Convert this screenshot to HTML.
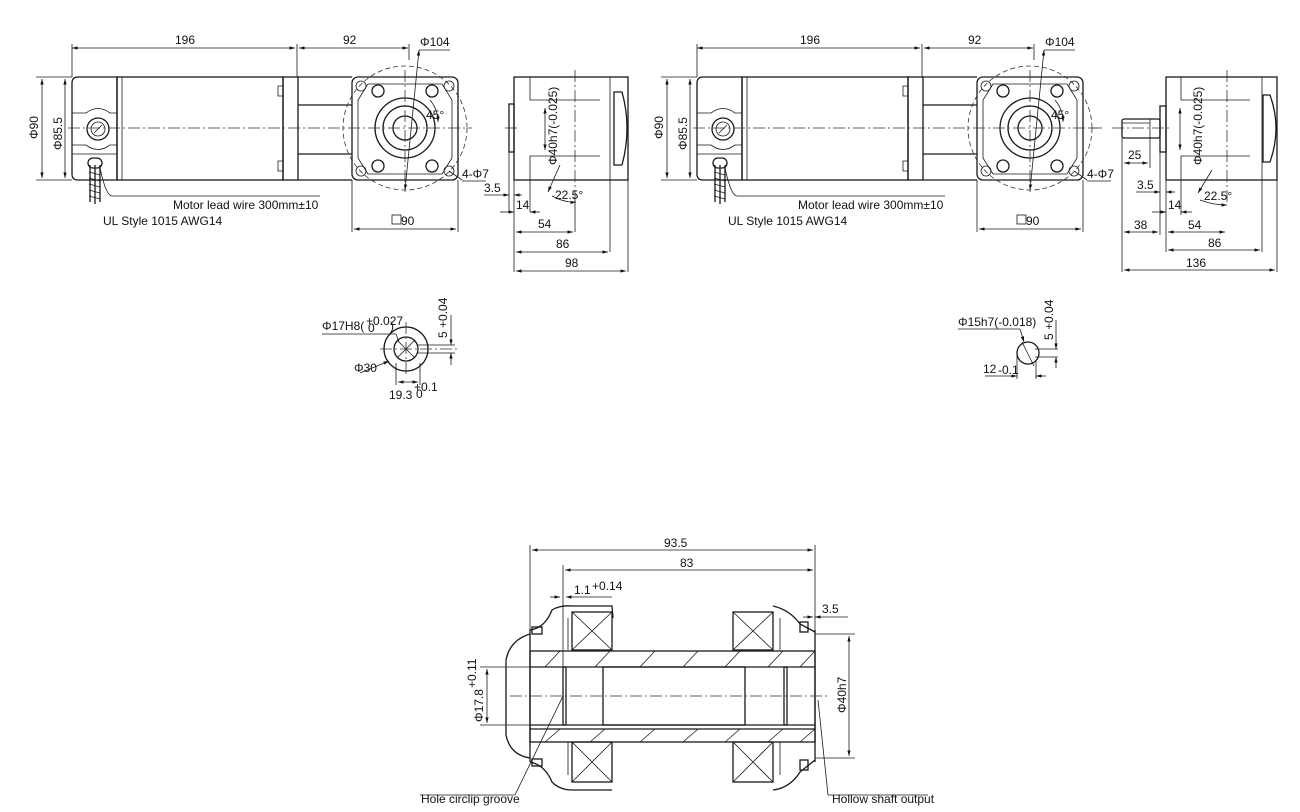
<!DOCTYPE html>
<html><head><meta charset="utf-8"><style>
html,body{margin:0;padding:0;background:#fff;}
svg{display:block}
text{font-family:"Liberation Sans Narrow","Liberation Sans",sans-serif;fill:#111;font-size:12px}
.l{stroke:#1a1a1a;stroke-width:1.3;fill:none}
.t{stroke:#1a1a1a;stroke-width:0.8;fill:none}
.c{stroke:#333;stroke-width:0.8;fill:none;stroke-dasharray:12 3 2 3}
.d{stroke:#333;stroke-width:0.8;fill:none;stroke-dasharray:5 3}
</style></head><body>
<svg width="1300" height="812" viewBox="0 0 1300 812" xmlns="http://www.w3.org/2000/svg">
<defs>
<marker id="a" viewBox="0 0 10 10" refX="10" refY="5" markerWidth="7" markerHeight="7" orient="auto-start-reverse"><path d="M0,2 L10,5 L0,8 z" fill="#111"/></marker>
<g id="motor">
  <path class="l" d="M78,77 H117 V180 H78 Q72,180 72,174 V83 Q72,77 78,77 Z"/>
  <path class="t" d="M72,113 H86 Q98,104 110,113 H117 M72,145 H86 Q98,154 110,145 H117 M72,154 H117"/>
  <circle class="l" cx="98" cy="129" r="11"/><circle class="t" cx="98" cy="129" r="7"/>
  <line class="t" x1="94" y1="133" x2="102" y2="125"/>
  <rect class="l" x="88" y="158" width="14" height="10" rx="5"/>
  <path class="l" d="M90,165 V202 M95,165 V204 M100,165 V202"/>
  <path class="t" d="M89,172 l11,3 M89,178 l11,3 M89,184 l11,3 M89,190 l11,3 M89,196 l11,3"/>
  <rect class="l" x="117" y="77" width="166" height="103"/>
  <line class="t" x1="122" y1="77" x2="122" y2="180"/>
  <rect class="l" x="283" y="77" width="15" height="103"/>
  <path class="t" d="M278,86 h5 v10 h-5 z M278,161 h5 v10 h-5 z"/>
  <path class="l" d="M298,77 H352 M298,180 H352 M298,105 H352 M298,154 H352"/>
  <rect class="l" x="352" y="77" width="106" height="103" rx="6"/>
  <path class="t" d="M368,84 H442 L452,100 V158 L442,174 H368 L358,158 V100 Z"/>
  <circle class="t" cx="361" cy="86" r="5"/><circle class="t" cx="449" cy="86" r="5"/>
  <circle class="t" cx="361" cy="171" r="5"/><circle class="t" cx="449" cy="171" r="5"/>
  <circle class="l" cx="378" cy="91" r="6"/><circle class="l" cx="432" cy="91" r="6"/>
  <circle class="l" cx="378" cy="166" r="6"/><circle class="l" cx="432" cy="166" r="6"/>
  <circle class="l" cx="405" cy="128" r="30"/><circle class="l" cx="405" cy="128" r="22"/><circle class="l" cx="405" cy="128" r="12"/>
  <circle class="d" cx="405" cy="128" r="62"/>
  <line class="c" x1="405" y1="70" x2="405" y2="192"/>
  <line class="t" x1="419" y1="50" x2="405" y2="190" marker-end="url(#a)" marker-start="url(#a)"/>
  <line class="t" x1="419" y1="50" x2="450" y2="50"/>
  <text x="420" y="46">Φ104</text>
  <path class="t" d="M430,100 A34,34 0 0 1 438,122" marker-end="url(#a)"/>
  <text x="426" y="119">45°</text>
  <line class="t" x1="449" y1="171" x2="462" y2="180"/>
  <text x="462" y="178">4-Φ7</text>
  <line class="t" x1="462" y1="181" x2="486" y2="181"/>
  <line class="t" x1="72" y1="77" x2="72" y2="44"/>
  <line class="t" x1="297" y1="77" x2="297" y2="44"/>
  <line class="t" x1="409" y1="60" x2="409" y2="44"/>
  <line class="t" x1="72" y1="48" x2="295" y2="48" marker-end="url(#a)" marker-start="url(#a)"/>
  <line class="t" x1="299" y1="48" x2="408" y2="48" marker-end="url(#a)" marker-start="url(#a)"/>
  <text x="175" y="44">196</text><text x="343" y="44">92</text>
  <line class="t" x1="36" y1="77" x2="72" y2="77"/><line class="t" x1="36" y1="180" x2="72" y2="180"/>
  <line class="t" x1="42" y1="79" x2="42" y2="178" marker-end="url(#a)" marker-start="url(#a)"/>
  <line class="t" x1="65" y1="79" x2="65" y2="178" marker-end="url(#a)" marker-start="url(#a)"/>
  <text transform="translate(38,139) rotate(-90)">Φ90</text>
  <text transform="translate(62,150) rotate(-90)">Φ85.5</text>
  <line class="c" x1="68" y1="128" x2="472" y2="128"/>
  <path class="t" d="M100,168 Q106,196 112,196 H320"/>
  <text x="173" y="209">Motor lead wire 300mm±10</text>
  <text x="103" y="225">UL Style 1015 AWG14</text>
  <line class="t" x1="352" y1="180" x2="352" y2="232"/><line class="t" x1="458" y1="180" x2="458" y2="232"/>
  <line class="t" x1="354" y1="229" x2="456" y2="229" marker-end="url(#a)" marker-start="url(#a)"/>
  <rect class="t" x="392" y="215" width="9" height="9"/><text x="401" y="225">90</text>
</g>
</defs>
<use href="#motor"/>
<use href="#motor" transform="translate(625,0)"/>
<line class="c" x1="1090" y1="128" x2="1105" y2="128"/>

<rect class="l" x="514" y="77" width="114" height="103"/>
<path class="t" d="M530,77 V100 H600 M530,180 V156 H600 M610,77 V180"/>
<rect class="l" x="509" y="104" width="5" height="48"/>
<path class="l" d="M614,92 H622 Q632,128 622,165 H614 Z"/>
<line class="c" x1="575" y1="70" x2="575" y2="195"/>
<line class="c" x1="505" y1="128" x2="520" y2="128"/>
<line class="t" x1="545" y1="108" x2="545" y2="150" marker-end="url(#a)" marker-start="url(#a)"/>
<text transform="translate(557,165) rotate(-90)" font-size="11">Φ40h7(-0.025)</text>
<line class="t" x1="560" y1="165" x2="548" y2="192" marker-end="url(#a)"/>
<path class="t" d="M552,196 Q565,203 576,202" marker-end="url(#a)"/>
<text x="555" y="199">22.5°</text>
<line class="t" x1="514" y1="180" x2="514" y2="272"/><line class="t" x1="509" y1="152" x2="509" y2="212"/>
<line class="t" x1="530" y1="180" x2="530" y2="212"/><line class="t" x1="628" y1="180" x2="628" y2="272"/>
<line class="t" x1="610" y1="180" x2="610" y2="252"/><line class="t" x1="575" y1="195" x2="575" y2="232"/>
<line class="t" x1="484" y1="195" x2="509" y2="195" marker-end="url(#a)"/><line class="t" x1="522" y1="195" x2="514" y2="195" marker-end="url(#a)"/>
<text x="484" y="192">3.5</text>
<line class="t" x1="500" y1="212" x2="514" y2="212" marker-end="url(#a)"/><line class="t" x1="540" y1="212" x2="530" y2="212" marker-end="url(#a)"/>
<text x="516" y="209">14</text>
<line class="t" x1="516" y1="232" x2="573" y2="232" marker-end="url(#a)" marker-start="url(#a)"/><text x="538" y="228">54</text>
<line class="t" x1="516" y1="252" x2="608" y2="252" marker-end="url(#a)" marker-start="url(#a)"/><text x="556" y="248">86</text>
<line class="t" x1="516" y1="271" x2="626" y2="271" marker-end="url(#a)" marker-start="url(#a)"/><text x="565" y="267">98</text>

<rect class="l" x="1166" y="77" width="111" height="103"/>
<path class="t" d="M1181,77 V100 H1250 M1181,180 V156 H1250 M1262,77 V180"/>
<rect class="l" x="1160" y="106" width="6" height="46"/>
<path class="l" d="M1263,95 H1270 Q1282,128 1270,162 H1263 Z"/>
<rect class="l" x="1122" y="119" width="38" height="19" rx="2"/>
<line class="t" x1="1122" y1="123" x2="1150" y2="123"/><line class="t" x1="1150" y1="119" x2="1150" y2="138"/>
<line class="c" x1="1227" y1="70" x2="1227" y2="205"/>
<line class="c" x1="1112" y1="128" x2="1170" y2="128"/>
<line class="t" x1="1180" y1="108" x2="1180" y2="150" marker-end="url(#a)" marker-start="url(#a)"/>
<text transform="translate(1202,165) rotate(-90)" font-size="11">Φ40h7(-0.025)</text>
<line class="t" x1="1212" y1="170" x2="1198" y2="193" marker-end="url(#a)"/>
<path class="t" d="M1200,200 Q1213,205 1227,205" marker-end="url(#a)"/>
<text x="1204" y="200">22.5°</text>
<line class="t" x1="1122" y1="138" x2="1122" y2="272"/><line class="t" x1="1150" y1="138" x2="1150" y2="168"/>
<line class="t" x1="1160" y1="152" x2="1160" y2="235"/><line class="t" x1="1166" y1="180" x2="1166" y2="252"/>
<line class="t" x1="1181" y1="180" x2="1181" y2="215"/><line class="t" x1="1277" y1="180" x2="1277" y2="272"/>
<line class="t" x1="1262" y1="180" x2="1262" y2="252"/>
<line class="t" x1="1124" y1="163" x2="1148" y2="163" marker-end="url(#a)" marker-start="url(#a)"/><text x="1128" y="159">25</text>
<line class="t" x1="1136" y1="192" x2="1160" y2="192" marker-end="url(#a)"/><line class="t" x1="1175" y1="192" x2="1166" y2="192" marker-end="url(#a)"/><text x="1137" y="189">3.5</text>
<line class="t" x1="1152" y1="212" x2="1166" y2="212" marker-end="url(#a)"/><line class="t" x1="1192" y1="212" x2="1181" y2="212" marker-end="url(#a)"/><text x="1168" y="209">14</text>
<line class="t" x1="1124" y1="232" x2="1158" y2="232" marker-end="url(#a)" marker-start="url(#a)"/><text x="1134" y="229">38</text>
<line class="t" x1="1168" y1="232" x2="1225" y2="232" marker-end="url(#a)" marker-start="url(#a)"/><text x="1188" y="229">54</text>
<line class="t" x1="1168" y1="250" x2="1260" y2="250" marker-end="url(#a)" marker-start="url(#a)"/><text x="1208" y="247">86</text>
<line class="t" x1="1124" y1="270" x2="1275" y2="270" marker-end="url(#a)" marker-start="url(#a)"/><text x="1186" y="267">136</text>

<circle class="l" cx="406" cy="349" r="22"/><circle class="l" cx="406" cy="349" r="12"/>
<path class="t" d="M418,345 H455 M418,353 H455"/>
<line class="c" x1="380" y1="349" x2="460" y2="349"/><line class="c" x1="406" y1="322" x2="406" y2="375"/>
<line class="t" x1="397" y1="340" x2="415" y2="358"/><line class="t" x1="397" y1="358" x2="415" y2="340"/>
<line class="t" x1="322" y1="334" x2="396" y2="334"/><line class="t" x1="396" y1="334" x2="399" y2="342"/>
<text x="322" y="330" font-size="11">Φ17H8(</text><text x="366" y="325" font-size="7">+0.027</text><text x="368" y="332" font-size="7">0</text><text x="390" y="330" font-size="11">)</text>
<line class="t" x1="360" y1="373" x2="389" y2="361" marker-end="url(#a)"/><text x="354" y="372">Φ30</text>
<line class="t" x1="396" y1="363" x2="396" y2="385"/><line class="t" x1="420" y1="363" x2="420" y2="385"/>
<line class="t" x1="398" y1="382" x2="418" y2="382" marker-end="url(#a)" marker-start="url(#a)"/>
<text x="389" y="399">19.3</text><text x="414" y="391" font-size="7">+0.1</text><text x="416" y="398" font-size="7">0</text>
<line class="t" x1="451" y1="315" x2="451" y2="345" marker-end="url(#a)"/><line class="t" x1="451" y1="365" x2="451" y2="353" marker-end="url(#a)"/>
<text transform="translate(447,338) rotate(-90)" font-size="10">5 +0.04</text>

<circle class="l" cx="1028" cy="353" r="11"/>
<path class="t" d="M1035,349 H1058 M1035,357 H1058"/>
<line class="t" x1="1022" y1="342" x2="1034" y2="366"/>
<line class="t" x1="958" y1="329" x2="1020" y2="329"/><line class="t" x1="1020" y1="329" x2="1024" y2="342" marker-end="url(#a)"/>
<text x="958" y="326" font-size="11">Φ15h7(-0.018)</text>
<line class="t" x1="1017" y1="355" x2="1017" y2="379"/><line class="t" x1="1036" y1="360" x2="1036" y2="379"/>
<line class="t" x1="985" y1="376" x2="1017" y2="376" marker-end="url(#a)"/><line class="t" x1="1046" y1="376" x2="1036" y2="376" marker-end="url(#a)"/>
<text x="983" y="373">12</text><text x="998" y="374" font-size="7">-0.1</text>
<line class="t" x1="1056" y1="320" x2="1056" y2="349" marker-end="url(#a)"/><line class="t" x1="1056" y1="368" x2="1056" y2="357" marker-end="url(#a)"/>
<text transform="translate(1053,340) rotate(-90)" font-size="10">5 +0.04</text>

<line class="t" x1="530" y1="545" x2="530" y2="640"/><line class="t" x1="815" y1="545" x2="815" y2="640"/>
<line class="t" x1="563" y1="565" x2="563" y2="696"/>
<line class="t" x1="532" y1="550" x2="813" y2="550" marker-end="url(#a)" marker-start="url(#a)"/><text x="664" y="547">93.5</text>
<line class="t" x1="565" y1="570" x2="813" y2="570" marker-end="url(#a)" marker-start="url(#a)"/><text x="680" y="567">83</text>
<line class="t" x1="550" y1="597" x2="560" y2="597" marker-end="url(#a)"/><line class="t" x1="612" y1="597" x2="566" y2="597" marker-end="url(#a)"/>
<text x="574" y="594" font-size="11">1.1</text><text x="592" y="590" font-size="6">+0.14</text>
<line class="t" x1="803" y1="617" x2="813" y2="617" marker-end="url(#a)"/><line class="t" x1="848" y1="617" x2="815" y2="617" marker-end="url(#a)"/><text x="822" y="613">3.5</text>
<path class="l" d="M530,634 Q510,640 506,660 L506,735 Q510,755 530,758"/>
<path class="l" d="M530,630 Q545,628 552,610 Q560,605 572,606 H612 L613,618 M530,762 Q545,765 552,782 Q560,790 572,790 H612"/>
<path class="l" d="M773,606 Q790,610 800,624 L815,632 M773,790 Q790,788 800,772 L815,760"/>
<path class="l" d="M530,630 V762 M815,630 V762"/>
<rect class="l" x="532" y="627" width="10" height="7"/><rect class="l" x="532" y="759" width="10" height="7"/>
<rect class="l" x="800" y="622" width="8" height="10"/><rect class="l" x="800" y="760" width="8" height="10"/>
<path class="t" d="M568,618 V650 M568,742 V775 M780,618 V650 M780,742 V775"/>
<g class="l"><rect x="572" y="612" width="40" height="38"/><rect x="572" y="742" width="40" height="40"/><rect x="733" y="612" width="40" height="38"/><rect x="733" y="742" width="40" height="40"/></g>
<g class="t"><path d="M572,612 L612,650 M612,612 L572,650 M572,742 L612,782 M612,742 L572,782 M733,612 L773,650 M773,612 L733,650 M733,742 L773,782 M773,742 L733,782"/></g>
<rect class="l" x="530" y="651" width="285" height="91"/>
<path class="l" d="M530,667 H815 M530,725 H815 M530,729 H815"/>
<rect class="l" x="563" y="667" width="3" height="58"/>
<rect class="l" x="603" y="667" width="142" height="58"/>
<rect class="l" x="784" y="667" width="3" height="58"/>
<g class="t"><path d="M545,667 L560,651 M595,667 L610,651 M640,667 L655,651 M683,667 L698,651 M725,667 L740,651 M768,667 L783,651 M800,667 L815,651 M545,742 L560,729 M590,742 L605,729 M640,742 L655,729 M683,742 L698,729 M725,742 L740,729 M768,742 L783,729 M800,742 L815,729"/></g>
<line class="c" x1="510" y1="696" x2="830" y2="696"/>
<line class="t" x1="480" y1="667" x2="530" y2="667"/><line class="t" x1="480" y1="725" x2="530" y2="725"/>
<line class="t" x1="487" y1="669" x2="487" y2="723" marker-end="url(#a)" marker-start="url(#a)"/>
<text transform="translate(483,722) rotate(-90)" font-size="12">Φ17.8</text><text transform="translate(476,688) rotate(-90)" font-size="6">+0.11</text>
<line class="t" x1="815" y1="634" x2="855" y2="634"/><line class="t" x1="815" y1="758" x2="855" y2="758"/>
<line class="t" x1="849" y1="636" x2="849" y2="756" marker-end="url(#a)" marker-start="url(#a)"/>
<text transform="translate(846,713) rotate(-90)">Φ40h7</text>
<line class="t" x1="563" y1="696" x2="515" y2="795"/><line class="t" x1="420" y1="795" x2="515" y2="795"/>
<text x="421" y="803">Hole circlip groove</text>
<line class="t" x1="818" y1="700" x2="828" y2="795"/><line class="t" x1="828" y1="795" x2="928" y2="795"/>
<text x="832" y="803">Hollow shaft output</text>
</svg>
</body></html>
